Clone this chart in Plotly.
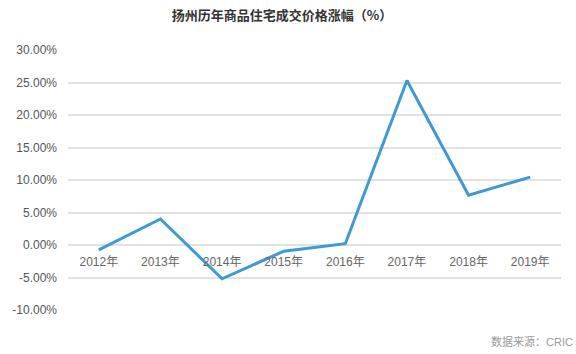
import plotly.graph_objects as go

years = ["2012年", "2013年", "2014年", "2015年", "2016年", "2017年", "2018年", "2019年"]
growth = [-0.75, 4.0, -5.2, -0.95, 0.2, 25.3, 7.65, 10.45]
y_ticks = [-10, -5, 0, 5, 10, 15, 20, 25, 30]
y_tick_labels = ["-10.00%", "-5.00%", "0.00%", "5.00%", "10.00%", "15.00%", "20.00%", "25.00%", "30.00%"]

FONT = "Liberation Sans, Arial, Noto Sans CJK SC, sans-serif"

fig = go.Figure()
fig.add_trace(go.Scatter(
    x=years, y=growth, mode="lines",
    line=dict(color="#3b9ad8", width=3),
    hoverinfo="x+y",
))

fig.update_layout(
    width=576, height=354,
    margin=dict(l=56, r=15, t=50, b=44),
    paper_bgcolor="white", plot_bgcolor="white",
    showlegend=False,
    font=dict(family=FONT, color="#555"),
    title=dict(
        text="<b>扬州历年商品住宅成交价格涨幅（%）</b>",
        x=282 / 576, xanchor="center", y=1 - 15 / 354, yanchor="middle",
        font=dict(size=13, color="#333", family="Noto Sans CJK SC, sans-serif"),
    ),
    xaxis=dict(
        type="category", anchor="free", position=0.25,
        showgrid=False, zeroline=False, showline=False,
        ticks="", tickfont=dict(size=12, color="#666", family=FONT),
        ticklabelstandoff=8,
        range=[-0.5, len(years) - 0.5],
    ),
    yaxis=dict(
        range=[-10, 30], tickvals=y_ticks, ticktext=y_tick_labels,
        showgrid=True, gridcolor="#e2e2e2", gridwidth=1.5,
        zeroline=False, showline=False, ticks="",
        tickfont=dict(size=12, color="#555", family=FONT),
        ticklabelstandoff=10,
    ),
    annotations=[dict(
        text="数据来源：CRIC", xref="paper", yref="paper",
        x=(575 - 56) / 505, xanchor="right", y=-31 / 260, yanchor="middle",
        showarrow=False, font=dict(size=11, color="#999", family=FONT),
    )],
)

fig.write_html("out.html")
